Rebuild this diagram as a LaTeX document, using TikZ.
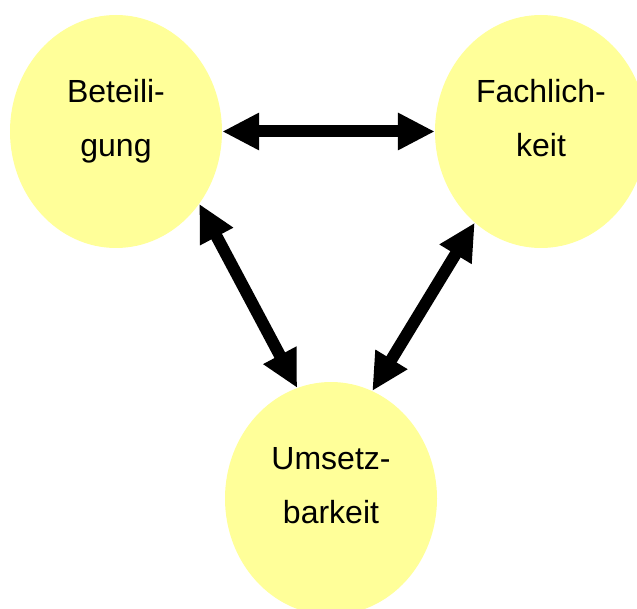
\documentclass[tikz,border=0pt]{standalone}
\usepackage{fontspec}
\setmainfont{Liberation Sans}
\usetikzlibrary{arrows.meta,shapes.geometric}
\definecolor{ideayellow}{HTML}{FFFF99}

\begin{document}
\begin{tikzpicture}[x=1pt,y=-1pt,
  blob/.style={ellipse, fill=ideayellow, minimum width=212pt, minimum height=233pt, inner sep=0pt},
  word/.style={align=center, font=\fontsize{32}{54}\selectfont, text height=77pt, text depth=7pt, inner sep=0pt},
  link/.style={{Triangle[length=37pt,width=35pt]}-{Triangle[length=37pt,width=35pt]}, line width=12pt}]
\clip (0,0) rectangle (637,609);
\node[blob] (bet) at (116,131.5) {};
\node[blob] (fach) at (541,131.5) {};
\node[blob] (ums) at (331,498.5) {};
\node[word] (bettxt) at ([yshift=10pt]bet.center) {Beteili-\\gung};
\node[word] (fachtxt) at ([yshift=10pt]fach.center) {Fachlich-\\keit};
\node[word] (umstxt) at ([yshift=10pt]ums.center) {Umsetz-\\barkeit};
% double arrows between the circles
\draw[link] (bet.east) -- (fach.west);
\draw[link] (bet.-41.6) -- (ums.107);
\draw[link] (fach.-126.6) -- (ums.69.6);
\end{tikzpicture}
\end{document}
